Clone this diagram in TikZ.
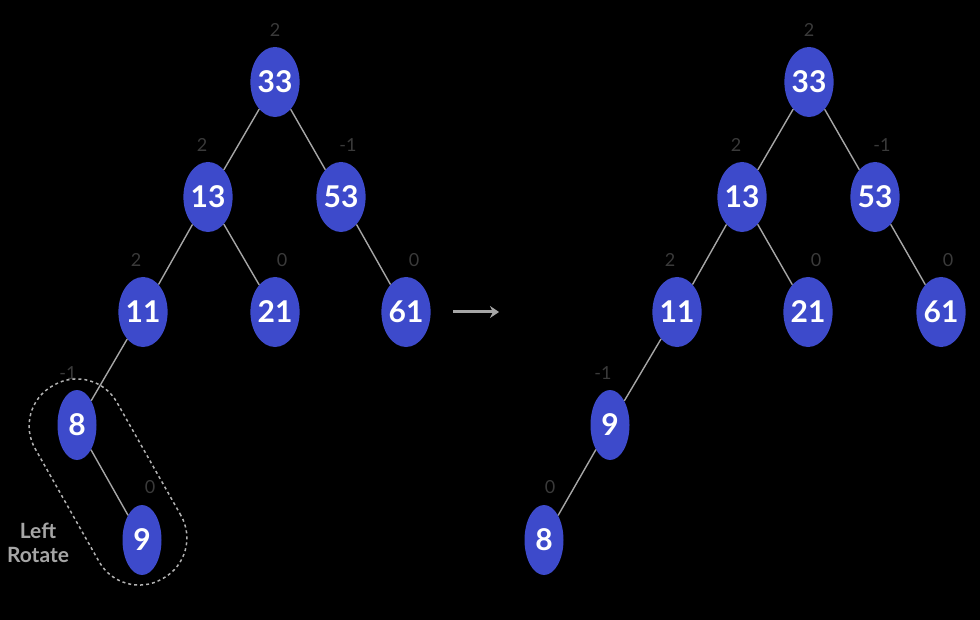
\documentclass[tikz,border=0pt]{standalone}
\usepackage{fontspec}
\setmainfont{Lato}
\usetikzlibrary{shapes.geometric,arrows.meta}
\definecolor{avlblue}{HTML}{3D4ACB}
\definecolor{balgray}{HTML}{3A3A3A}
\tikzset{
  avl/.style={ellipse,fill=avlblue,text=white,minimum width=39pt,minimum height=70pt,inner sep=0pt,font=\fontsize{30}{30}\selectfont\bfseries},
  bal/.style={text=balgray,font=\fontsize{18}{18}\selectfont},
  link/.style={draw=gray!70,line width=1.4pt}
}
\begin{document}
\begin{tikzpicture}[x=1pt,y=-1pt]
    \fill[black] (0,0) rectangle (980,620);
    \useasboundingbox (0,0) rectangle (980,620);

    % before rotation
    \node[avl] (A33) at (275,82) {33};
    \node[avl] (A13) at (208,197) {13};
    \node[avl] (A53) at (341,197) {53};
    \node[avl] (A11) at (143,312) {11};
    \node[avl] (A21) at (275,312) {21};
    \node[avl] (A61) at (406,312) {61};
    \node[avl] (A8) at (77,425) {8};
    \node[avl] (A9) at (142,540) {9};
    \draw[link] (A33)--(A13) (A33)--(A53) (A13)--(A11) (A13)--(A21)
                (A53)--(A61) (A11)--(A8) (A8)--(A9);
    \node[bal] at (275,30) {2};
    \node[bal] at (202,145) {2};
    \node[bal] at (348,145) {-1};
    \node[bal] at (136,260) {2};
    \node[bal] at (282,260) {0};
    \node[bal] at (414,260) {0};
    \node[bal] at (68,373) {-1};
    \node[bal] at (150,487) {0};
    \node[draw=gray!60,dashed,line width=1.5pt,rounded corners=46pt,minimum width=222pt,minimum height=94pt,rotate=-60.5] (loop) at (108,482) {};
    \node[text=gray!70,font=\fontsize{21}{24}\selectfont\bfseries,align=center] (rot) at (38,543) {Left\\Rotate};

    % arrow
    \coordinate (ar1) at (453,312);
    \coordinate (ar2) at (499,312);
    \draw[gray!70,line width=3pt,-{Stealth[length=9pt,width=12pt]}] (ar1)--(ar2);

    % after rotation
    \node[avl] (B33) at (809,82) {33};
    \node[avl] (B13) at (742,197) {13};
    \node[avl] (B53) at (875,197) {53};
    \node[avl] (B11) at (677,312) {11};
    \node[avl] (B21) at (808,312) {21};
    \node[avl] (B61) at (941,312) {61};
    \node[avl] (B9) at (610,425) {9};
    \node[avl] (B8) at (544,540) {8};
    \draw[link] (B33)--(B13) (B33)--(B53) (B13)--(B11) (B13)--(B21)
                (B53)--(B61) (B11)--(B9) (B9)--(B8);
    \node[bal] at (809,30) {2};
    \node[bal] at (736,145) {2};
    \node[bal] at (882,145) {-1};
    \node[bal] at (670,260) {2};
    \node[bal] at (816,260) {0};
    \node[bal] at (948,260) {0};
    \node[bal] at (603,373) {-1};
    \node[bal] at (550,487) {0};
\end{tikzpicture}
\end{document}
